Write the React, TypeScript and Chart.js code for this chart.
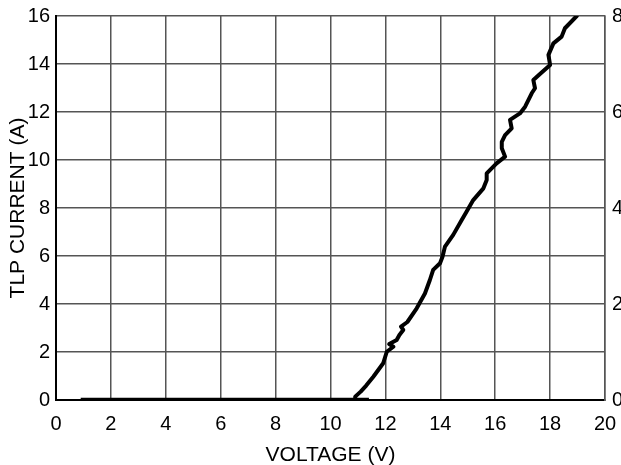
import React, { useEffect, useRef } from "react";
import { Chart, registerables } from "chart.js";

Chart.register(...registerables);

const flatVoltage = [0.9, 11.4];
const flatCurrent = [0, 0];

const voltage = [
  10.9, 10.9, 11.1, 11.3, 11.56, 11.92, 12.05, 12.29, 12.14, 12.41, 12.51, 12.65, 12.57, 12.8,
  13.14, 13.44, 13.62, 13.74, 13.99, 14.08, 14.17, 14.47, 14.78, 14.96, 15.2, 15.57, 15.69,
  15.69, 16.05, 16.36, 16.24, 16.24, 16.36, 16.6, 16.54, 16.9, 17.09, 17.33, 17.45, 17.39,
  17.6, 18.0, 17.94, 18.12, 18.42, 18.54, 18.97,
];
const current = [
  0.0, 0.14, 0.35, 0.6, 0.97, 1.53, 2.01, 2.22, 2.33, 2.5, 2.71, 2.92, 3.06, 3.25,
  3.82, 4.44, 5.0, 5.42, 5.7, 5.97, 6.39, 6.88, 7.5, 7.85, 8.33, 8.82, 9.17,
  9.44, 9.86, 10.14, 10.49, 10.76, 11.04, 11.32, 11.67, 11.94, 12.22, 12.78, 12.99, 13.33,
  13.55, 13.96, 14.38, 14.86, 15.14, 15.49, 16.0,
];

const xTitle = "VOLTAGE (V)";
const yTitle = "TLP CURRENT (A)";

const FONT = "'Liberation Sans', Arial, sans-serif";

export default function App() {
  const ref = useRef<HTMLCanvasElement | null>(null);

  useEffect(() => {
    document.body.style.margin = "0";
    const ctx = ref.current!;
    const font = { family: FONT, size: 20 };
    const titleFont = { family: FONT, size: 21 };
    const gridColor = "#555555";
    const chart = new Chart(ctx, {
      type: "line",
      data: {
        datasets: [
          {
            data: flatVoltage.map((v, i) => ({ x: v, y: flatCurrent[i] })),
            borderColor: "#000",
            borderWidth: 4.5,
            pointRadius: 0,
            tension: 0,
            yAxisID: "y",
          },
          {
            data: voltage.map((v, i) => ({ x: v, y: current[i] })),
            borderColor: "#000",
            borderWidth: 4,
            pointRadius: 0,
            tension: 0,
            borderJoinStyle: "round",
            borderCapStyle: "round",
            yAxisID: "y",
          },
        ],
      },
      options: {
        responsive: false,
        animation: false,
        devicePixelRatio: 1,
        layout: { padding: { top: 16, left: 0, right: 0, bottom: 0 } },
        plugins: { legend: { display: false }, tooltip: { enabled: false } },
        scales: {
          x: {
            type: "linear",
            min: 0,
            max: 20,
            ticks: { stepSize: 2, color: "#000", font, padding: 12, maxRotation: 0 },
            grid: { color: gridColor, lineWidth: 1.5, drawTicks: false },
            border: { color: "#000", width: 2 },
            title: {
              display: true,
              text: xTitle,
              color: "#000",
              font: titleFont,
              padding: { top: 0, bottom: -3 },
            },
            afterFit: (s: any) => {
              s.height = 65;
              s.paddingLeft = 0;
              s.paddingRight = 0;
            },
          },
          y: {
            type: "linear",
            position: "left",
            min: 0,
            max: 16,
            ticks: { stepSize: 2, color: "#000", font, padding: 6 },
            grid: { color: gridColor, lineWidth: 1.5, drawTicks: false },
            border: { color: "#000", width: 2 },
            title: {
              display: true,
              text: yTitle,
              color: "#000",
              font: titleFont,
              padding: { top: 5.5, bottom: 0 },
            },
            afterFit: (s: any) => {
              s.width = 56;
              s.paddingTop = 0;
              s.paddingBottom = 0;
            },
          },
          y2: {
            type: "linear",
            position: "right",
            min: 0,
            max: 8,
            ticks: { stepSize: 2, color: "#000", font, padding: 7 },
            grid: { drawOnChartArea: false, drawTicks: false },
            border: { color: gridColor, width: 1.5 },
            afterFit: (s: any) => {
              s.width = 16;
              s.paddingTop = 0;
              s.paddingBottom = 0;
            },
          },
        },
      },
    } as any);
    return () => chart.destroy();
  }, []);

  return (
    <div style={{ position: "absolute", left: 0, top: 0, width: 621, height: 465, background: "#fff" }}>
      <canvas ref={ref} width={621} height={465} />
    </div>
  );
}
